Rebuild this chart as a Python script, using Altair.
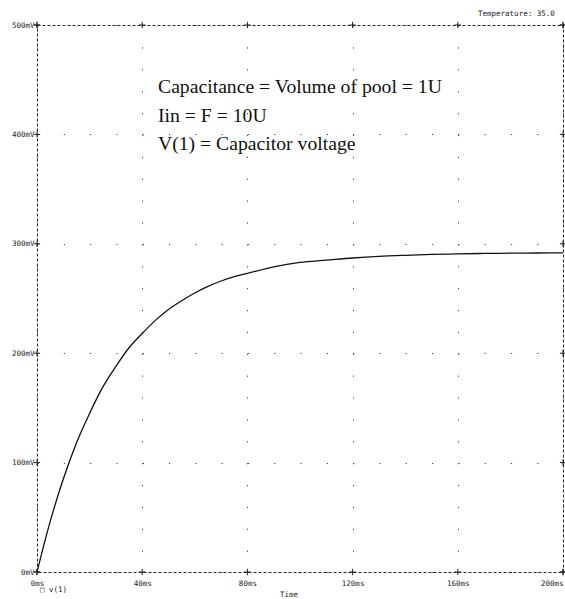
import altair as alt
import pandas as pd

# Curve V(1) (time in ms, voltage in mV)
time_ms = [0, 5, 10, 15, 20, 25, 30, 35, 40, 45, 50, 55, 60, 65, 70, 75, 80,
           90, 100, 110, 120, 130, 140, 150, 160, 170, 180, 190, 200]
volt_mv = [0, 46, 85, 118, 145, 169, 188, 205, 218, 230, 240, 248, 255, 261,
           266, 270, 273, 279, 283, 285, 287, 288.5, 289.5, 290.3, 290.8, 291.2, 291.4, 291.6, 291.7]

x_ticks = [0, 40, 80, 120, 160, 200]
y_ticks = [0, 100, 200, 300, 400, 500]

notes = ["Capacitance = Volume of pool = 1U", "Iin = F = 10U", "V(1) = Capacitor voltage"]

curve = pd.DataFrame({"t": time_ms, "v": volt_mv})

# crosses at tick positions around the frame
cross_rows = []
for t in x_ticks:
    cross_rows.append({"t": t, "v": y_ticks[0]})
    cross_rows.append({"t": t, "v": y_ticks[-1]})
for v in y_ticks:
    cross_rows.append({"t": x_ticks[0], "v": v})
    cross_rows.append({"t": x_ticks[-1], "v": v})
crosses = pd.DataFrame(cross_rows)

W, H = 526, 547
xs = alt.Scale(domain=[0, 200], nice=False, zero=False)
ys = alt.Scale(domain=[0, 500], nice=False)

mono = "DejaVu Sans Mono"

line = alt.Chart(curve).mark_line(color="#111111", strokeWidth=1.3,
                                  interpolate="monotone").encode(
    x=alt.X("t:Q", scale=xs, axis=alt.Axis(
        values=x_ticks, labelExpr="datum.value + 'ms'", title=None,
        grid=True, gridDash=[1.2, 20.68], gridColor="#444444", gridWidth=1,
        domain=False, ticks=False, labelFont=mono, labelFontSize=7.5,
        labelColor="#1a1a1a", labelPadding=7, labelFlush=False,
        labelAlign=alt.ExprRef(expr="datum.value == 200 ? 'right' : 'center'"))),
    y=alt.Y("v:Q", scale=ys, axis=alt.Axis(
        values=y_ticks, labelExpr="datum.value + 'mV'", title=None,
        grid=True, gridDash=[1.2, 25.1], gridColor="#444444", gridWidth=1,
        domain=False, ticks=False, labelFont=mono, labelFontSize=7.5,
        labelColor="#1a1a1a", labelPadding=3, labelFlush=False)),
)

cross = alt.Chart(crosses).mark_point(
    shape="M-1,0L1,0M0,-1L0,1", filled=False, color="#222222",
    size=40, strokeWidth=1, opacity=1
).encode(x=alt.X("t:Q", scale=xs), y=alt.Y("v:Q", scale=ys))

note_layers = []
for i, txt in enumerate(notes):
    note_layers.append(
        alt.Chart(pd.DataFrame({"s": [txt]})).mark_text(
            font="Liberation Serif", fontSize=19.7, align="left",
            baseline="alphabetic", color="#111111"
        ).encode(text="s:N", x=alt.value(121), y=alt.value(68 + 28.5 * i))
    )

small = []
for txt, xx, yy in [("\u25a1 v(1)", 3, 18), ("Time", 243, 23),
                    ("Temperature:  35.0", 441, -11)]:
    small.append(
        alt.Chart(pd.DataFrame({"s": [txt]})).mark_text(
            font=mono, fontSize=7.5, align="left", baseline="middle",
            color="#1a1a1a"
        ).encode(text="s:N", x=alt.value(xx),
                 y=alt.value(H + yy if yy > 0 else yy))
    )

chart = alt.layer(line, cross, *note_layers, *small).properties(
    width=W, height=H,
    autosize=alt.AutoSizeParams(type="none"),
    padding={"left": 37, "top": 25, "right": 2, "bottom": 27},
    background="white",
).configure_view(
    stroke="#222222", strokeDash=[3, 2], strokeWidth=1
)

chart.save("out.html", embed_options={"renderer": "svg", "actions": False})
